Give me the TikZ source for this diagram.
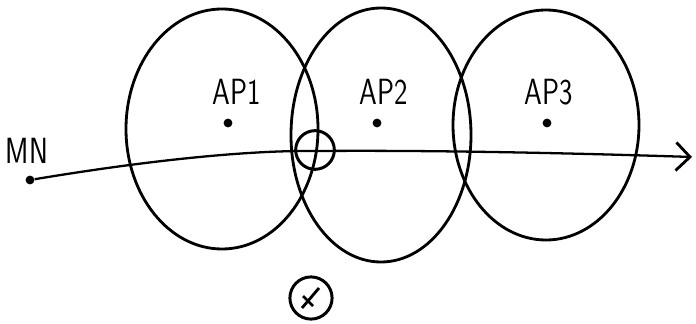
\documentclass[tikz,border=0pt]{standalone}
\usepackage{tikz}
\usepackage{graphicx}
\usetikzlibrary{calc, positioning, arrows.meta}

\begin{document}
\begin{tikzpicture}[x=0.02cm, y=-0.02cm]
    \tikzset{
      cell/.style={
        draw, line width=1.6pt,
      },
      station/.style={
        circle, fill, inner sep=0pt, minimum size=5pt,
      },
      aplabel/.style={
        font=\sffamily\huge, inner sep=1pt,
      },
      route/.style={
        -{Straight Barb[length=8pt, width=16pt, line width=1.6pt]}, draw, line width=1.3pt,
      },
      marker/.style={
        circle, draw, line width=1.7pt, minimum size=22pt, inner sep=0pt,
      },
    }
    \newcommand{\hand}[1]{\scalebox{0.78}[1]{#1}}
    \useasboundingbox (0,0) rectangle (696,324);

    % coverage areas
    \draw[cell] (222,129) ellipse [x radius=96, y radius=120];
    \draw[cell] (381,135) ellipse [x radius=90, y radius=127];
    \draw[cell] (546,125) ellipse [x radius=93, y radius=115];

    % access points
    \node[station] (ap1) at (228,123) {};
    \node[aplabel] at ($(ap1) + (9,-31)$) {\hand{AP1}};

    \node[station] (ap2) at (377,123) {};
    \node[aplabel] at ($(ap2) + (7,-31)$) {\hand{AP2}};

    \node[station] (ap3) at (547,123) {};
    \node[aplabel] at ($(ap3) + (2,-31)$) {\hand{AP3}};

    % mobile node and its route
    \node[station] (mn) at (30,180) {};
    \node[aplabel] at ($(mn) + (-3,-29)$) {\hand{MN}};
    \coordinate (end) at (692,157);
    \draw[route] (mn) .. controls (150,160) and (250,150) .. (318,151)
                      .. controls (450,150) and (600,154) .. (end);

    % handover point
    \node[marker] (ho) at (315,150) {};

    % symbol below
    \node[marker, minimum size=24pt] (sym) at (311,298) {};
    \draw[line width=1.6pt] ($(sym) + (-9,10)$) -- ($(sym) + (8,-10)$);
    \draw[line width=1.6pt] ($(sym) + (-8,-2)$) -- ($(sym) + (2,8)$);
\end{tikzpicture}
\end{document}
